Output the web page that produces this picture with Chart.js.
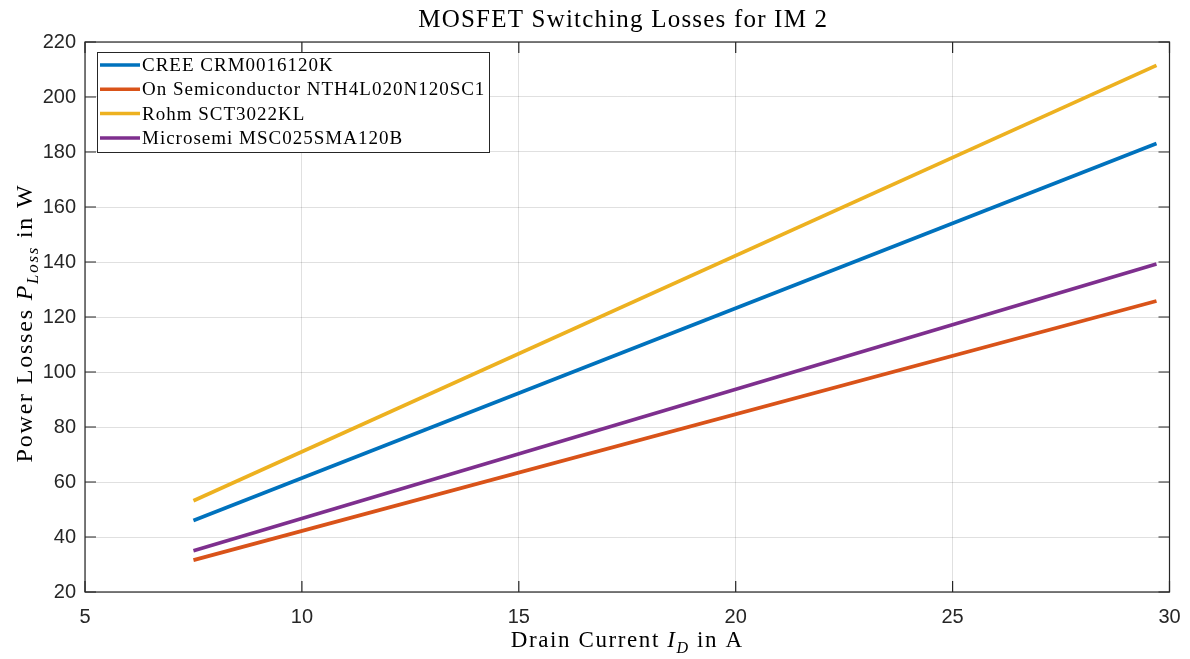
<!DOCTYPE html>
<html>
<head>
<meta charset="utf-8">
<script src="https://cdn.jsdelivr.net/npm/chart.js@4"></script>
<style>
  html, body { margin: 0; padding: 0; background: #fff; }
  #wrap { width: 1190px; height: 659px; }
</style>
</head>
<body>
<div id="wrap"><canvas id="losses-chart"></canvas></div>
<script>
const drainCurrent = [7.5, 29.7];
const creeLosses = [46.0, 183.1];
const onsemiLosses = [31.6, 125.8];
const rohmLosses = [53.2, 211.5];
const microsemiLosses = [35.0, 139.3];
const seriesNames = ['CREE CRM0016120K', 'On Semiconductor NTH4L020N120SC1', 'Rohm SCT3022KL', 'Microsemi MSC025SMA120B'];
const xTicks = [5, 10, 15, 20, 25, 30];
const yTicks = [20, 40, 60, 80, 100, 120, 140, 160, 180, 200, 220];

const colors = ['#0072BD', '#D95319', '#EDB120', '#7E2F8E'];
const serif = '"Liberation Serif", "DejaVu Serif", serif';
const sans = '"Liberation Sans", Arial, sans-serif';
const axisColor = '#262626';

function toPoints(ys) {
    return drainCurrent.map((x, i) => ({ x: x, y: ys[i] }));
}

// draws text made of parts: {text, italic, sub}
function drawRich(ctx, parts, cx, cy, size, spacing) {
    let total = 0;
    ctx.letterSpacing = (spacing || 0) + 'px';
    parts.forEach(p => {
        const s = p.sub ? size * 0.7 : size;
        ctx.font = (p.italic ? 'italic ' : '') + s + 'px ' + serif;
        p.w = ctx.measureText(p.text).width;
        total += p.w;
    });
    let x = cx - total / 2;
    ctx.textAlign = 'left';
    ctx.textBaseline = 'alphabetic';
    parts.forEach(p => {
        const s = p.sub ? size * 0.7 : size;
        ctx.font = (p.italic ? 'italic ' : '') + s + 'px ' + serif;
        ctx.fillText(p.text, x, cy + (p.sub ? size * 0.25 : 0));
        x += p.w;
    });
    ctx.letterSpacing = '0px';
}

const decorPlugin = {
    id: 'decor',
    afterDraw(chart) {
        const ctx = chart.ctx;
        const a = chart.chartArea;
        const xs = chart.scales.x, ys = chart.scales.y;
        ctx.save();

        // box and inward ticks
        ctx.strokeStyle = axisColor;
        ctx.lineWidth = 1.2;
        ctx.strokeRect(a.left, a.top, a.right - a.left, a.bottom - a.top);
        ctx.beginPath();
        const tl = 11;
        xTicks.forEach(v => {
            const px = xs.getPixelForValue(v);
            ctx.moveTo(px, a.bottom); ctx.lineTo(px, a.bottom - tl);
            ctx.moveTo(px, a.top); ctx.lineTo(px, a.top + tl);
        });
        yTicks.forEach(v => {
            const py = ys.getPixelForValue(v);
            ctx.moveTo(a.left, py); ctx.lineTo(a.left + tl, py);
            ctx.moveTo(a.right, py); ctx.lineTo(a.right - tl, py);
        });
        ctx.stroke();

        // title
        ctx.fillStyle = '#000';
        const mid = (a.left + a.right) / 2;
        drawRich(ctx, [{ text: 'MOSFET Switching Losses for IM 2' }], mid - 4, 27, 25, 1.2);

        // x title
        drawRich(ctx, [
            { text: 'Drain Current ' },
            { text: 'I', italic: true },
            { text: 'D', italic: true, sub: true },
            { text: ' in A' }
        ], mid, 647, 23, 1.6);

        // y title
        ctx.save();
        ctx.translate(32, (a.top + a.bottom) / 2 + 6);
        ctx.rotate(-Math.PI / 2);
        drawRich(ctx, [
            { text: 'Power Losses ' },
            { text: 'P', italic: true },
            { text: 'Loss', italic: true, sub: true },
            { text: ' in W' }
        ], 0, 0, 24, 1.8);
        ctx.restore();

        // legend box
        const lx = 97, ly = 52, lw = 392, lh = 100;
        ctx.fillStyle = '#fff';
        ctx.fillRect(lx, ly, lw, lh);
        ctx.strokeStyle = '#262626';
        ctx.lineWidth = 1;
        ctx.strokeRect(lx + 0.5, ly + 0.5, lw, lh);
        chart.data.datasets.forEach((ds, i) => {
            const y = 65 + i * 24.3;
            ctx.strokeStyle = ds.borderColor;
            ctx.lineWidth = 3.5;
            ctx.beginPath();
            ctx.moveTo(100, y);
            ctx.lineTo(140, y);
            ctx.stroke();
            ctx.fillStyle = '#000';
            ctx.font = '19px ' + serif;
            ctx.letterSpacing = '1px';
            ctx.textAlign = 'left';
            ctx.textBaseline = 'middle';
            ctx.fillText(ds.label, 142, y + 1);
            ctx.letterSpacing = '0px';
        });
        ctx.restore();
    }
};

const seriesValues = [creeLosses, onsemiLosses, rohmLosses, microsemiLosses];

new Chart(document.getElementById('losses-chart').getContext('2d'), {
    type: 'line',
    data: {
        datasets: seriesValues.map((vals, i) => ({
            label: seriesNames[i],
            data: toPoints(vals),
            borderColor: colors[i],
            backgroundColor: colors[i],
            borderWidth: 3.7,
            pointRadius: 0,
            fill: false
        }))
    },
    options: {
        responsive: true,
        maintainAspectRatio: false,
        animation: false,
        layout: { padding: { left: 0, top: 42, right: 20.5, bottom: 0 } },
        scales: {
            x: {
                type: 'linear',
                min: 5,
                max: 30,
                afterBuildTicks: s => { s.ticks = xTicks.map(v => ({ value: v })); },
                afterFit: s => { s.height = 67; s.paddingRight = 0; },
                border: { display: false },
                grid: { color: 'rgba(0,0,0,0.12)', drawTicks: false },
                ticks: {
                    color: axisColor,
                    padding: 13,
                    font: { family: sans, size: 20 },
                    maxRotation: 0
                }
            },
            y: {
                min: 20,
                max: 220,
                afterBuildTicks: s => { s.ticks = yTicks.map(v => ({ value: v })); },
                afterFit: s => { s.width = 85; },
                border: { display: false },
                grid: { color: 'rgba(0,0,0,0.12)', drawTicks: false },
                ticks: {
                    color: axisColor,
                    padding: 9,
                    font: { family: sans, size: 20 }
                }
            }
        },
        plugins: {
            legend: { display: false },
            tooltip: { enabled: false }
        }
    },
    plugins: [decorPlugin]
});
</script>
</body>
</html>
